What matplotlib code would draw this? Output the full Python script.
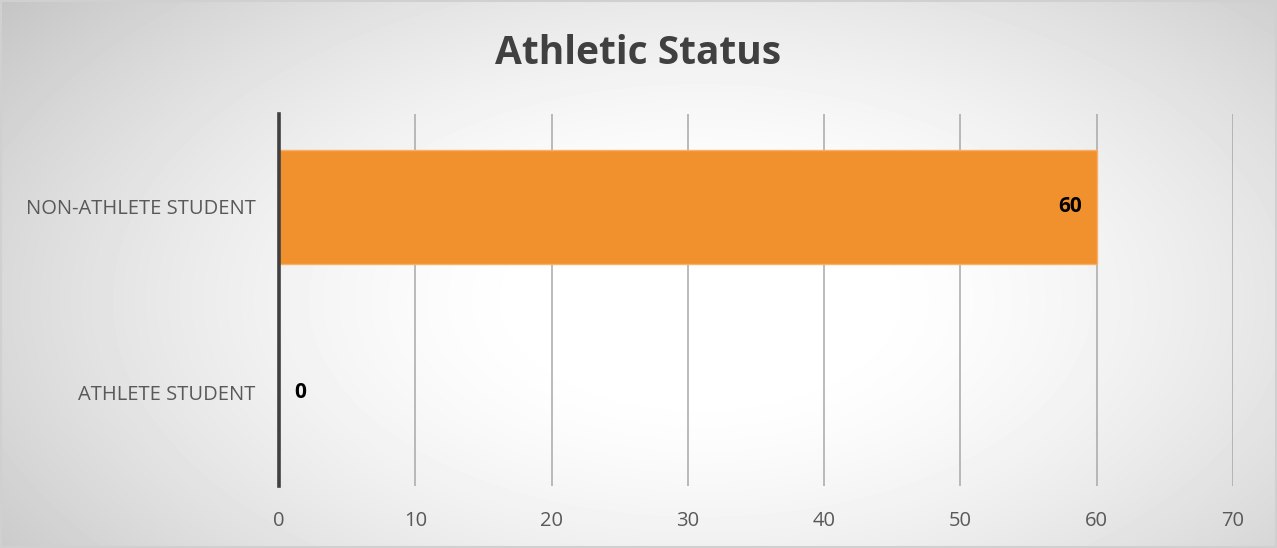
import numpy as np
import matplotlib
matplotlib.use("Agg")
import matplotlib.pyplot as plt

categories = ["ATHLETE STUDENT", "NON-ATHLETE STUDENT"]
counts = [0, 60]
x_ticks = [0, 10, 20, 30, 40, 50, 60, 70]
title = "Athletic Status"

plt.rcParams['font.family'] = ['Open Sans', 'DejaVu Sans']

fig = plt.figure(figsize=(12.77, 5.48), dpi=100)

# radial grey-to-white background
bg = fig.add_axes([0, 0, 1, 1], zorder=-10)
yy, xx = np.mgrid[0:548, 0:1277]
r = np.sqrt(((xx - 700) / 760.0) ** 2 + ((yy - 300) / 420.0) ** 2)
shade = np.clip(1.0 - 0.243 * np.clip(r - 0.2, 0, None) ** 1.5, 0.74, 1.0)
bg.imshow(shade, cmap='gray', vmin=0, vmax=1, aspect='auto', extent=[0, 1, 0, 1])
bg.set_xlim(0, 1)
bg.set_ylim(0, 1)
bg.axis('off')
bg.add_patch(plt.Rectangle((0.001, 0.002), 0.998, 0.996, fill=False,
                           edgecolor='#d0d0d0', linewidth=1.5))

ax = fig.add_axes([279 / 1277, 1 - 486 / 548, (1233 - 279) / 1277, (486 - 114) / 548])
ax.patch.set_alpha(0)

y = np.arange(len(categories))
ax.barh(y, counts, height=0.61, color='#f0912d', edgecolor='#f6b06a', linewidth=1, zorder=3)

for yi, v in zip(y, counts):
    if v > 0:
        ax.text(v - 1.1, yi, str(v), ha='right', va='center', fontsize=15,
                fontweight='bold', color='black', zorder=4)
    else:
        ax.text(v + 1.1, yi, str(v), ha='left', va='center', fontsize=15,
                fontweight='bold', color='black', zorder=4)

ax.set_xlim(0, 70)
ax.set_ylim(-0.5, 1.5)
ax.set_xticks(x_ticks)
ax.set_yticks(y)
ax.set_yticklabels(categories)
ax.tick_params(axis='both', length=0, labelsize=14.5, colors='#595959')
ax.tick_params(axis='x', pad=18)
ax.tick_params(axis='y', pad=17)
ax.xaxis.grid(True, color='#a8a8a8', linewidth=1.1, zorder=0)
ax.set_axisbelow(True)
for s in ['top', 'right', 'bottom']:
    ax.spines[s].set_visible(False)
ax.spines['left'].set_color('#404040')
ax.spines['left'].set_linewidth(2.6)
ax.spines['left'].set_zorder(5)

fig.text(638 / 1277, 1 - 54 / 548, title, ha='center', va='center',
         fontsize=28, fontweight='bold', color='#404040')

fig.savefig("out.png", dpi=100)
